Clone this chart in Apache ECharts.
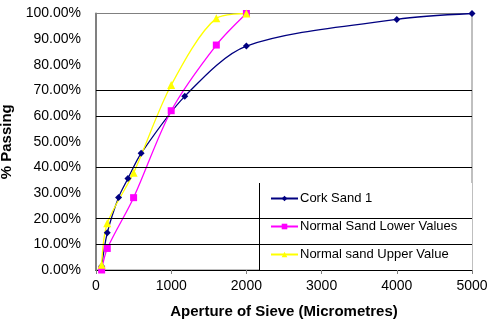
<!DOCTYPE html>
<html>
<head>
<meta charset="utf-8">
<script src="https://cdn.jsdelivr.net/npm/echarts@6/dist/echarts.min.js"></script>
<style>
  html, body { margin: 0; padding: 0; background: #fff; }
  #chart { width: 492px; height: 322px; }
</style>
</head>
<body>
<div id="chart"></div>
<script>
// sieve aperture (micrometres) vs fraction passing
const corkX = [75, 150, 300, 425, 600, 1180, 2000, 4000, 5000]
const corkY = [0.015, 0.145, 0.283, 0.357, 0.455, 0.677, 0.873, 0.977, 1.0]

const lowerX = [75, 150, 500, 1000, 1600, 2000]
const lowerY = [0.0, 0.084, 0.282, 0.621, 0.877, 1.0]

const upperX = [75, 150, 500, 1000, 1600, 2000]
const upperY = [0.02, 0.182, 0.379, 0.721, 0.981, 1.0]

const seriesNames = ['Cork Sand 1', 'Normal Sand Lower Values', 'Normal sand Upper Value']

// gridlines that show up in the picture
const gridLevels = [0.1, 0.2, 0.4, 0.6, 0.7]

const pairs = (xs, ys) => xs.map((x, i) => [x, ys[i]])

const chart = echarts.init(document.getElementById('chart'))

const font = 'Liberation Sans, Arial, sans-serif'

const option = {
  animation: false,
  textStyle: { fontFamily: font },
  grid: {
    left: 96,
    right: 20,
    top: 13.5,
    bottom: 52,
    outerBoundsMode: 'none',
    containLabel: false,
    show: true,
    borderColor: '#808080',
    borderWidth: 1
  },
  xAxis: {
    type: 'value',
    min: 0,
    max: 5000,
    interval: 1000,
    name: 'Aperture of Sieve (Micrometres)',
    nameLocation: 'middle',
    nameGap: 34,
    nameTextStyle: { fontSize: 15, fontWeight: 'bold', color: '#000', fontFamily: font },
    axisLine: { show: true, lineStyle: { color: '#000', width: 1 } },
    axisTick: { show: true, length: 4, lineStyle: { color: '#808080' } },
    axisLabel: { fontSize: 14, color: '#000', margin: 9, fontFamily: font, formatter: v => String(v) },
    splitLine: { show: false }
  },
  yAxis: {
    type: 'value',
    min: 0,
    max: 1,
    interval: 0.1,
    name: '% Passing',
    nameLocation: 'middle',
    nameGap: 80,
    nameRotate: 90,
    nameTextStyle: { fontSize: 15, fontWeight: 'bold', color: '#000', fontFamily: font },
    axisLine: { show: true, lineStyle: { color: '#808080', width: 2 } },
    axisTick: { show: false },
    axisLabel: {
      fontSize: 14,
      color: '#000',
      margin: 15,
      fontFamily: font,
      formatter: v => (v * 100).toFixed(2) + '%'
    },
    splitLine: { show: false }
  },
  legend: {
    orient: 'vertical',
    left: 270,
    top: 192,
    itemGap: 15,
    itemWidth: 27,
    itemHeight: 7,
    padding: 0,
    z: 5,
    textStyle: { fontSize: 13, color: '#000', fontFamily: font, padding: [0, 0, 0, -3] },
    data: seriesNames
  },
  graphic: [
    {
      type: 'rect',
      shape: { x: 259, y: 183, width: 213, height: 87 },
      style: { fill: '#fff' },
      z: 3
    },
    {
      type: 'line',
      shape: { x1: 259.5, y1: 183, x2: 259.5, y2: 270 },
      style: { stroke: '#000', lineWidth: 1 },
      z: 4
    }
  ],
  series: [
    {
      type: 'line',
      data: [],
      z: 1,
      silent: true,
      markLine: {
        silent: true,
        symbol: 'none',
        label: { show: false },
        lineStyle: { color: '#000', type: 'solid', width: 1 },
        data: gridLevels.map(v => ({ yAxis: v }))
      }
    },
    {
      name: seriesNames[0],
      type: 'line',
      smooth: 0.3,
      data: pairs(corkX, corkY),
      symbol: 'diamond',
      symbolSize: 7,
      color: '#000080',
      lineStyle: { color: '#000080', width: 1.3 },
      itemStyle: { color: '#000080' },
      z: 2
    },
    {
      name: seriesNames[1],
      type: 'line',
      smooth: 0.3,
      data: pairs(lowerX, lowerY),
      symbol: 'rect',
      symbolSize: 7,
      color: '#ff00ff',
      lineStyle: { color: '#ff00ff', width: 1.3 },
      itemStyle: { color: '#ff00ff' },
      z: 2
    },
    {
      name: seriesNames[2],
      type: 'line',
      smooth: 0.3,
      data: pairs(upperX, upperY),
      symbol: 'triangle',
      symbolSize: 8,
      color: '#ffff00',
      lineStyle: { color: '#ffff00', width: 1.3 },
      itemStyle: { color: '#ffff00' },
      z: 2
    }
  ]
}

chart.setOption(option)
</script>
</body>
</html>
